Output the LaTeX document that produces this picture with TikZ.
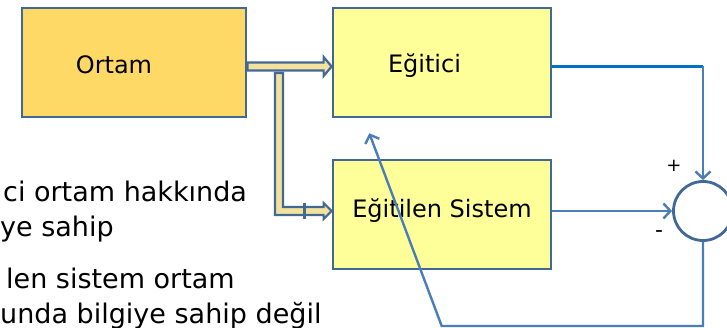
\documentclass[tikz,border=0pt]{standalone}
\usepackage{fontspec}
\setmainfont{DejaVu Sans}
\usetikzlibrary{arrows.meta,calc}
\definecolor{bdr}{RGB}{66,104,150}
\definecolor{ortamfill}{RGB}{255,217,102}
\definecolor{boxfill}{RGB}{255,255,153}
\definecolor{arrfill}{RGB}{243,226,158}
\definecolor{lnblue}{RGB}{74,126,187}
\definecolor{topblue}{RGB}{0,112,192}
\begin{document}
\begin{tikzpicture}[x=1pt,y=-1pt,
  blk/.style={draw=bdr, line width=2.8pt, minimum width=218pt, minimum height=109pt, inner sep=0pt, fill=boxfill},
  lbl/.style={font=\fontsize{24}{28}\selectfont, inner sep=0pt, anchor=base},
  txt/.style={font=\fontsize{27}{32}\selectfont, inner sep=0pt, anchor=base west},
  sgn/.style={font=\fontsize{18}{20}\selectfont, inner sep=0pt},
  hollow/.style={draw=bdr, line width=2.2pt, fill=arrfill, line join=miter},
  conn/.style={draw=lnblue, line width=2.4pt},
  tip/.style={-{Straight Barb[length=7pt,width=15pt]}}
]
\useasboundingbox (0,0) rectangle (727,328);

% boxes
\node[blk, fill=ortamfill, minimum width=224pt] (ortam) at (134,62.5) {};
\node[blk] (egt) at (442,62.5) {};
\node[blk] (egs) at (442,214.5) {};
\node[circle, draw=bdr, line width=2.8pt, minimum size=59pt, inner sep=0pt, fill=white] (sum) at (703,211) {};

% box labels
\node[lbl] (ortamtxt) at (114,74) {Ortam};
\node[lbl] (egttxt) at (424.5,73) {Eğitici};
\node[lbl] (egstxt) at (442,218) {Eğitilen Sistem};

% signs
\node[sgn] (plus) at (674,166) {+};
\node[sgn, font=\fontsize{22}{24}\selectfont] (minus) at (659,234) {-};

% left text
\node[txt] (t1) at (3,202) {ci ortam hakkında};
\node[txt] (t2) at (0,237) {ye sahip};
\node[txt] (t3) at (6,288) {len sistem ortam};
\node[txt] (t4) at (0,323) {unda bilgiye sahip değil};

% hollow arrows
\coordinate (m0) at ($(ortam.east)+(0,4)$);
\coordinate (m1) at ($(egt.west)+(0,4)$);
\coordinate (m2) at ($(egs.west)+(0,-3.5)$);
\draw[hollow] ($(m0)+(0,-4)$) -- ($(m1)+(-8,-4)$) -- ($(m1)+(-8,-9.5)$) -- (m1)
  -- ($(m1)+(-8,9.5)$) -- ($(m1)+(-8,4)$) -- ($(m0)+(0,4)$) -- cycle;
\coordinate (br) at (279,73);
\draw[hollow] ($(br)+(-4,0)$) -- ($(br)+(4,0)$) -- ($(br|-m2)+(4,-4)$) -- ($(m2)+(-8,-4)$)
  -- ($(m2)+(-8,-8)$) -- (m2) -- ($(m2)+(-8,8)$) -- ($(m2)+(-8,4)$)
  -- ($(br|-m2)+(-4,4)$) -- cycle;
\coordinate (tk) at (304,211);
\draw[draw=bdr, line width=3pt] ($(tk)+(0,-8)$) -- ($(tk)+(0,8)$);

% blue connectors
\coordinate (c1) at (sum.north |- m1);
\draw[topblue, line width=2.6pt] (m1 -| egt.east) -- (c1);
\draw[conn, tip] (c1) -- (sum.north);
\draw[conn, tip] (egs.east |- sum.west) -- (sum.west);
\coordinate (bl) at (441.7,326);
\coordinate (fbtip) at (369.3,133.3);
\draw[conn, tip, line join=miter] (sum.south) -- (sum.south |- bl) -- (bl) -- (fbtip);
\end{tikzpicture}
\end{document}
